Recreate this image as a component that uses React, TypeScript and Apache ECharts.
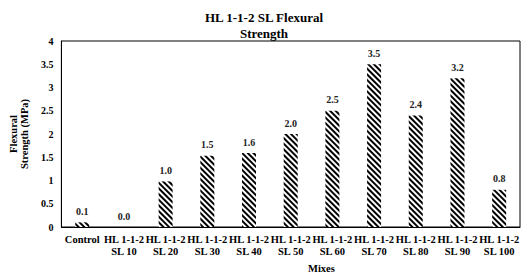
import React, { useEffect, useRef } from "react";
import * as echarts from "echarts";

const categories = [
  "Control",
  "HL 1-1-2\nSL 10",
  "HL 1-1-2\nSL 20",
  "HL 1-1-2\nSL 30",
  "HL 1-1-2\nSL 40",
  "HL 1-1-2\nSL 50",
  "HL 1-1-2\nSL 60",
  "HL 1-1-2\nSL 70",
  "HL 1-1-2\nSL 80",
  "HL 1-1-2\nSL 90",
  "HL 1-1-2\nSL 100",
];
const strengths = [0.1, 0.0, 0.98, 1.53, 1.59, 2.0, 2.5, 3.5, 2.4, 3.2, 0.8];

const FONT = "Liberation Serif";

export default function App() {
  const ref = useRef<HTMLDivElement>(null);
  useEffect(() => {
    document.body.style.margin = "0";
    if (!ref.current) return;
    const chart = echarts.init(ref.current, undefined, { renderer: "svg" });
    chart.setOption({
      animation: false,
      backgroundColor: "#fff",
      title: {
        text: "HL 1-1-2 SL Flexural\nStrength",
        left: 259,
        textAlign: "center",
        top: 4,
        textStyle: {
          fontFamily: FONT,
          fontWeight: "bold",
          fontSize: 13,
          lineHeight: 16,
          color: "#000",
        },
      },
      grid: {
        left: 54,
        right: 8,
        top: 41,
        bottom: 48,
        show: true,
        borderColor: "#000",
        borderWidth: 1,
      },
      xAxis: {
        type: "category",
        data: categories,
        axisLine: { show: true, lineStyle: { color: "#000", width: 1 } },
        axisTick: { show: false },
        axisLabel: {
          interval: 0,
          fontFamily: FONT,
          fontWeight: "bold",
          fontSize: 10.5,
          lineHeight: 12,
          color: "#000",
          margin: 6,
        },
      },
      yAxis: {
        type: "value",
        min: 0,
        max: 4,
        interval: 0.5,
        splitLine: { show: false },
        axisLine: { show: true, lineStyle: { color: "#000", width: 1 } },
        axisTick: { show: false },
        axisLabel: {
          fontFamily: FONT,
          fontWeight: "bold",
          fontSize: 10,
          color: "#000",
          margin: 8,
        },
        name: "Flexural\nStrength (MPa)",
        nameLocation: "middle",
        nameGap: 28,
        nameRotate: 90,
        nameTextStyle: {
          fontFamily: FONT,
          fontWeight: "bold",
          fontSize: 10.5,
          lineHeight: 11,
          color: "#000",
        },
      },
      graphic: [
        {
          type: "text",
          left: 308,
          top: 263,
          style: {
            text: "Mixes",
            fontFamily: FONT,
            fontWeight: "bold",
            fontSize: 10.5,
            fill: "#000",
          },
        },
      ],
      series: [
        {
          type: "bar",
          data: strengths,
          barWidth: 14,
          itemStyle: {
            color: "#fff",
            decal: {
              symbol: "rect",
              symbolSize: 1,
              dashArrayX: [1, 0],
              dashArrayY: [2, 1.5],
              rotation: Math.PI / 4,
              color: "#000",
              backgroundColor: "#fff",
            },
          },
          label: {
            show: true,
            position: "top",
            distance: 6,
            formatter: (p: any) => Number(p.value).toFixed(1),
            fontFamily: FONT,
            fontWeight: "bold",
            fontSize: 10,
            color: "#222",
          },
        },
      ],
    });
    return () => chart.dispose();
  }, []);
  return <div ref={ref} style={{ width: 528, height: 275 }} />;
}
